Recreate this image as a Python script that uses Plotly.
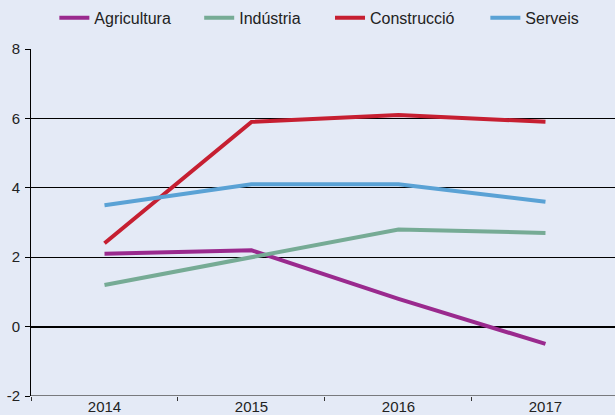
import plotly.graph_objects as go

years = ["2014", "2015", "2016", "2017"]
agricultura = [2.1, 2.2, 0.8, -0.5]
industria = [1.2, 2.0, 2.8, 2.7]
construccio = [2.4, 5.9, 6.1, 5.9]
serveis = [3.5, 4.1, 4.1, 3.6]
y_ticks = [-2, 0, 2, 4, 6, 8]
y_tick_labels = ["-2", "0", "2", "4", "6", "8"]

series = [
    ("Agricultura", agricultura, "#9A2A8E"),
    ("Indústria", industria, "#76AB95"),
    ("Construcció", construccio, "#C61F31"),
    ("Serveis", serveis, "#5AA2D5"),
]
# left edge (paper fraction) of each legend entry along the top row
legend_x = [0.040, 0.288, 0.512, 0.778]

font_family = "Liberation Sans, Arial, sans-serif"
bg = "#E4EAF6"

fig = go.Figure()
layout_legends = {}
for i, (name, vals, color) in enumerate(series):
    key = "legend" if i == 0 else f"legend{i + 1}"
    fig.add_trace(go.Scatter(
        x=years, y=vals, name=name, mode="lines",
        line=dict(color=color, width=4), legend=key,
    ))
    layout_legends[key] = dict(
        x=legend_x[i], xanchor="left", y=1.09, yanchor="middle",
        font=dict(size=16, color="#222222"), bgcolor="rgba(0,0,0,0)",
        itemwidth=30,
    )

fig.update_layout(
    width=615, height=415,
    margin=dict(l=31, r=0, t=49, b=19),
    paper_bgcolor=bg, plot_bgcolor=bg,
    font=dict(family=font_family, size=15, color="#222222"),
    showlegend=True,
    xaxis=dict(
        type="category", range=[-0.5, 3.473], tickson="boundaries",
        ticks="outside", ticklen=4, tickcolor="#333333", tickwidth=1,
        showgrid=False, showline=False, zeroline=False,
        tickfont=dict(size=15),
    ),
    yaxis=dict(
        range=[-2, 8], tickmode="array", tickvals=y_ticks, ticktext=y_tick_labels,
        showgrid=True, gridcolor="#000000",
        gridwidth=1, zeroline=True, zerolinecolor="#000000", zerolinewidth=2,
        showline=True, linecolor="#000000", linewidth=1,
        ticks="outside", ticklen=5, tickcolor="#000000",
        tickfont=dict(size=15), ticklabelstandoff=2,
    ),
    **layout_legends,
)

# Baseline along the bottom of the plot area
fig.add_shape(type="line", xref="paper", yref="y", x0=0, x1=1, y0=-2, y1=-2,
              line=dict(color="#555555", width=1.5), layer="below")

fig.write_html("out.html")
